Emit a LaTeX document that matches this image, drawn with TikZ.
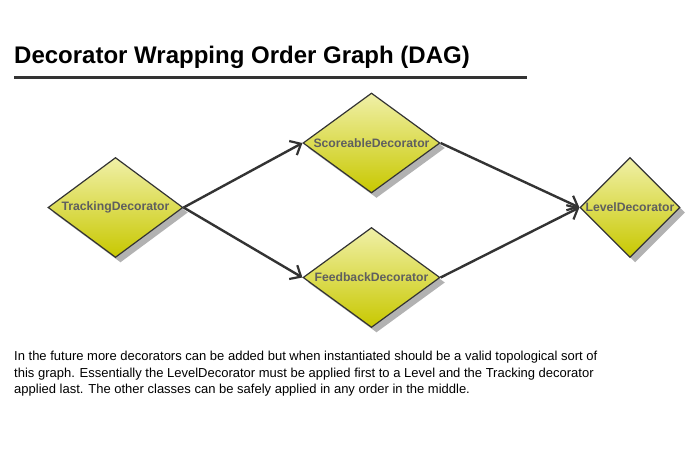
\documentclass[tikz,border=0pt]{standalone}
\usepackage{fontspec}
\setmainfont{Liberation Sans}
\usetikzlibrary{shapes.geometric,shadows,arrows.meta}
\definecolor{dkline}{HTML}{333333}
\definecolor{lblgray}{HTML}{5F5F5F}
\definecolor{ytop}{HTML}{F0F0A8}
\definecolor{ybot}{HTML}{C8C800}
\begin{document}
\begin{tikzpicture}[x=1pt,y=-1pt,
  deco/.style={diamond,draw=dkline,line width=1.2pt,inner sep=0pt,
    top color=ytop,bottom color=ybot,
    drop shadow={shadow xshift=5pt,shadow yshift=-5pt,fill=black!30,opacity=1}},
  decolabel/.style={font=\bfseries\fontsize{12.2}{14}\selectfont,text=lblgray},
  link/.style={line width=2.4pt,draw=dkline,-{Straight Barb[length=9pt,width=16pt,line width=2.2pt]}}]
\useasboundingbox (0,0) rectangle (699,458);
% heading and its rule
\node[anchor=base west,inner sep=0pt,font=\bfseries\fontsize{24}{28}\selectfont] (title) at (14,63) {Decorator Wrapping Order Graph (DAG)};
\draw[line width=3pt,dkline] (14,77) -- (527,77);
% the decorators
\node[deco,minimum width=135pt,minimum height=100pt,label={[decolabel]center:TrackingDecorator}] (track) at (115.5,207.5) {};
\node[deco,minimum width=137pt,minimum height=100pt,label={[decolabel]center:ScoreableDecorator}] (score) at (371.5,143) {};
\node[deco,minimum width=137pt,minimum height=100pt,label={[decolabel]center:FeedbackDecorator}] (feed) at (371.5,277.5) {};
\node[deco,minimum width=100pt,minimum height=100pt,label={[decolabel]center:LevelDecorator}] (level) at (630,207.5) {};
% wrapping order
\draw[link] (track.east) -- (score.west);
\draw[link] (track.east) -- (feed.west);
\draw[link] (score.east) -- (level.west);
\draw[link] (feed.east) -- (level.west);
% note below
\node[anchor=north west,inner sep=0pt,align=left,font=\fontsize{13}{16.6}\selectfont] (note) at (14,351) {In the future more decorators can be added but when instantiated should be a valid topological sort of\\this graph. Essentially the LevelDecorator must be applied first to a Level and the Tracking decorator\\applied last. The other classes can be safely applied in any order in the middle.};
\end{tikzpicture}
\end{document}
